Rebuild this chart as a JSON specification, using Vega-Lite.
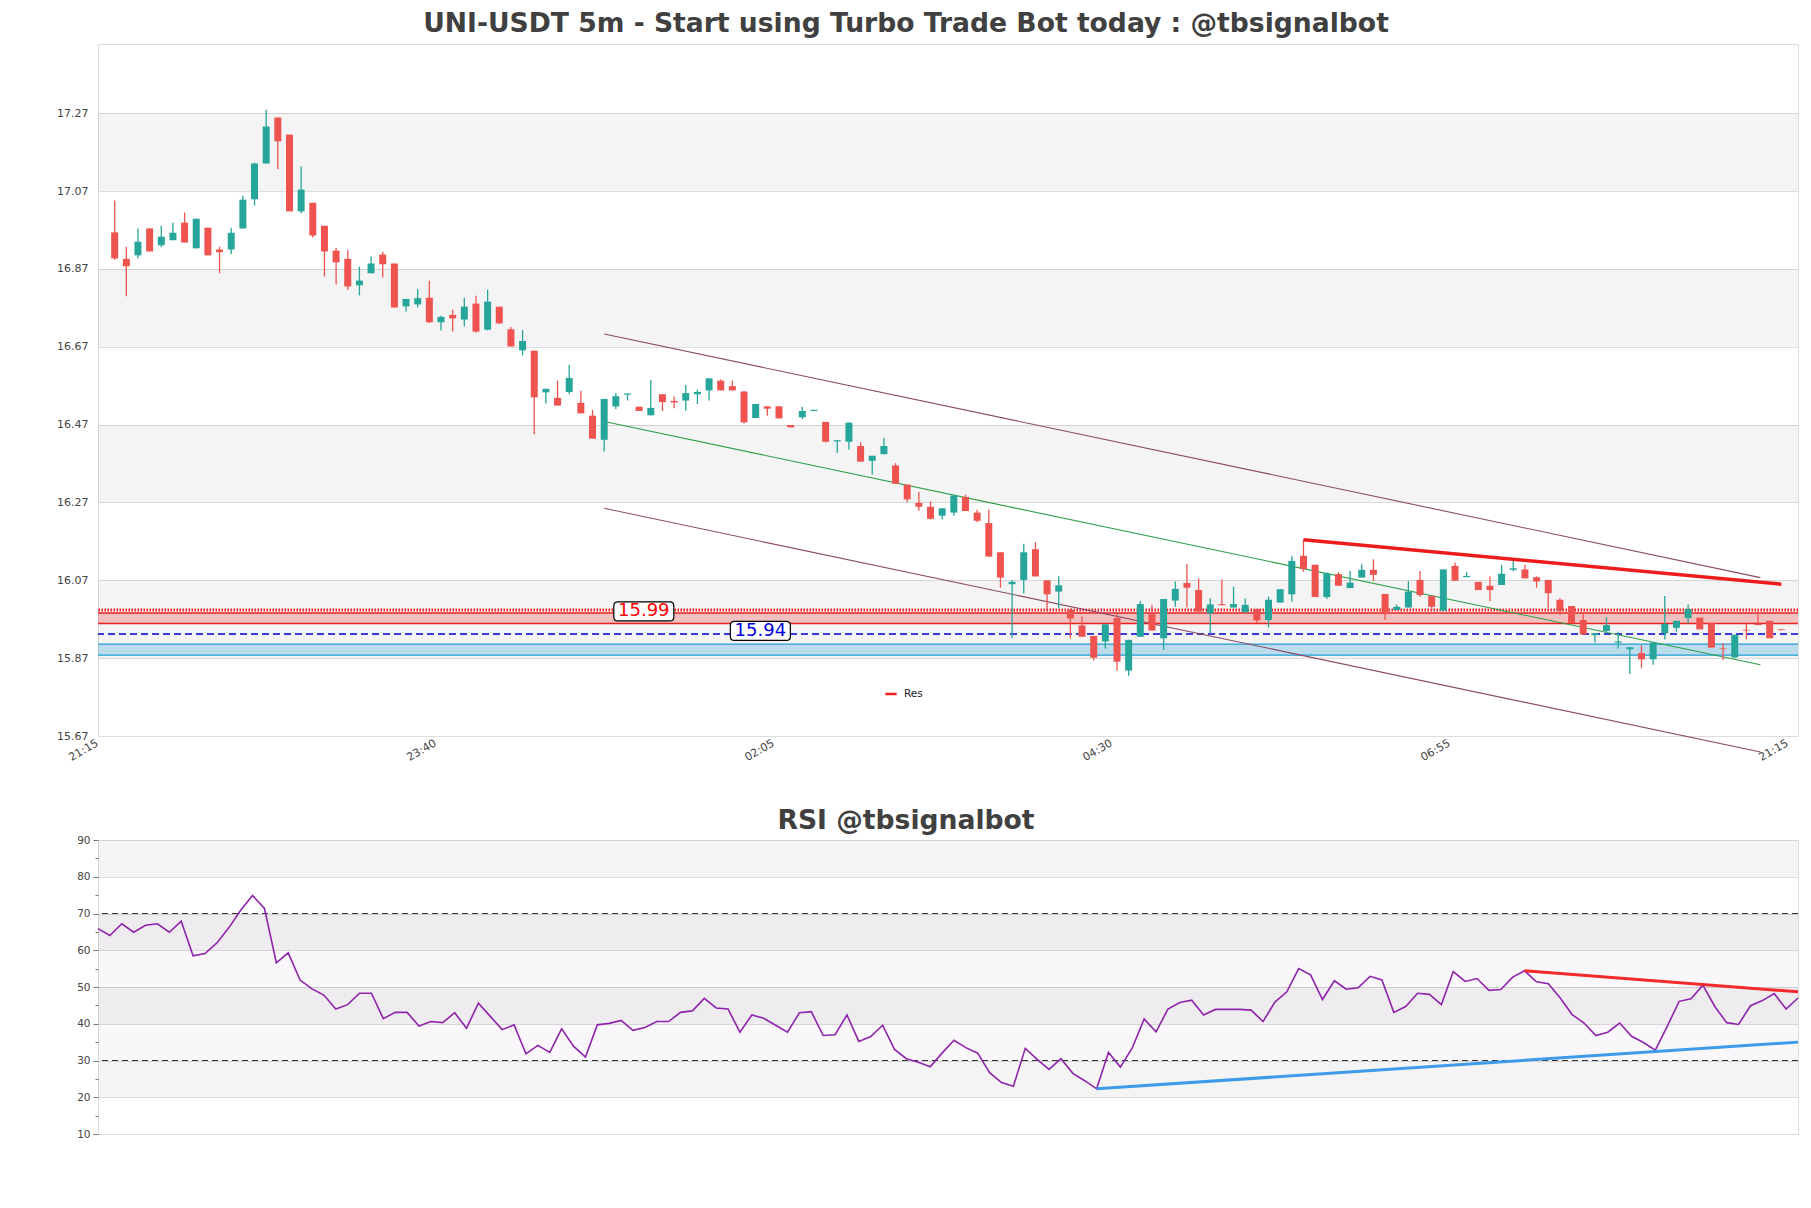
{
  "$schema": "https://vega.github.io/schema/vega-lite/v6.json",
  "background": "white",
  "padding": {"left": 5, "top": 10, "right": 5, "bottom": 5},
  "spacing": 104,
  "bounds": "flush",
  "config": {
    "font": "DejaVu Sans",
    "view": {"stroke": "#dcdcdc", "strokeWidth": 1},
    "axis": {"labelFont": "DejaVu Sans", "labelColor": "#444444", "labelFontSize": 11, "labelOverlap": false}
  },
  "resolve": {"legend": {"color": "independent"}, "scale": {"color": "independent"}},
  "datasets": {
    "candles": [
      {"i":1,"o":16.964,"h":17.046,"l":16.893,"c":16.897},
      {"i":2,"o":16.896,"h":16.927,"l":16.800,"c":16.877},
      {"i":3,"o":16.905,"h":16.974,"l":16.897,"c":16.940},
      {"i":4,"o":16.974,"h":16.975,"l":16.915,"c":16.915},
      {"i":5,"o":16.931,"h":16.981,"l":16.926,"c":16.953},
      {"i":6,"o":16.944,"h":16.989,"l":16.944,"c":16.963},
      {"i":7,"o":16.989,"h":17.015,"l":16.938,"c":16.938},
      {"i":8,"o":16.923,"h":16.999,"l":16.923,"c":16.999},
      {"i":9,"o":16.976,"h":16.976,"l":16.905,"c":16.905},
      {"i":10,"o":16.920,"h":16.927,"l":16.859,"c":16.913},
      {"i":11,"o":16.920,"h":16.976,"l":16.908,"c":16.963},
      {"i":12,"o":16.974,"h":17.058,"l":16.974,"c":17.048},
      {"i":13,"o":17.049,"h":17.143,"l":17.033,"c":17.141},
      {"i":14,"o":17.141,"h":17.279,"l":17.141,"c":17.236},
      {"i":15,"o":17.259,"h":17.259,"l":17.126,"c":17.198},
      {"i":16,"o":17.215,"h":17.215,"l":17.018,"c":17.018},
      {"i":17,"o":17.018,"h":17.133,"l":17.013,"c":17.074},
      {"i":18,"o":17.040,"h":17.040,"l":16.951,"c":16.956},
      {"i":19,"o":16.981,"h":16.981,"l":16.851,"c":16.915},
      {"i":20,"o":16.917,"h":16.924,"l":16.830,"c":16.887},
      {"i":21,"o":16.896,"h":16.919,"l":16.816,"c":16.825},
      {"i":22,"o":16.828,"h":16.876,"l":16.802,"c":16.840},
      {"i":23,"o":16.859,"h":16.902,"l":16.859,"c":16.884},
      {"i":24,"o":16.907,"h":16.914,"l":16.848,"c":16.882},
      {"i":25,"o":16.884,"h":16.884,"l":16.771,"c":16.771},
      {"i":26,"o":16.774,"h":16.793,"l":16.761,"c":16.793},
      {"i":27,"o":16.779,"h":16.818,"l":16.771,"c":16.795},
      {"i":28,"o":16.796,"h":16.840,"l":16.731,"c":16.733},
      {"i":29,"o":16.733,"h":16.750,"l":16.712,"c":16.747},
      {"i":30,"o":16.752,"h":16.765,"l":16.709,"c":16.743},
      {"i":31,"o":16.740,"h":16.796,"l":16.722,"c":16.773},
      {"i":32,"o":16.781,"h":16.801,"l":16.707,"c":16.709},
      {"i":33,"o":16.714,"h":16.817,"l":16.712,"c":16.786},
      {"i":34,"o":16.773,"h":16.773,"l":16.730,"c":16.730},
      {"i":35,"o":16.715,"h":16.721,"l":16.671,"c":16.671},
      {"i":36,"o":16.661,"h":16.713,"l":16.648,"c":16.685},
      {"i":37,"o":16.660,"h":16.660,"l":16.445,"c":16.540},
      {"i":38,"o":16.553,"h":16.562,"l":16.524,"c":16.562},
      {"i":39,"o":16.539,"h":16.583,"l":16.519,"c":16.519},
      {"i":40,"o":16.554,"h":16.623,"l":16.548,"c":16.590},
      {"i":41,"o":16.526,"h":16.557,"l":16.499,"c":16.499},
      {"i":42,"o":16.493,"h":16.508,"l":16.434,"c":16.434},
      {"i":43,"o":16.431,"h":16.536,"l":16.401,"c":16.536},
      {"i":44,"o":16.517,"h":16.551,"l":16.510,"c":16.543},
      {"i":45,"o":16.547,"h":16.550,"l":16.532,"c":16.550},
      {"i":46,"o":16.516,"h":16.516,"l":16.505,"c":16.505},
      {"i":47,"o":16.494,"h":16.585,"l":16.494,"c":16.513},
      {"i":48,"o":16.548,"h":16.548,"l":16.505,"c":16.528},
      {"i":49,"o":16.531,"h":16.542,"l":16.512,"c":16.527},
      {"i":50,"o":16.532,"h":16.572,"l":16.506,"c":16.551},
      {"i":51,"o":16.548,"h":16.560,"l":16.523,"c":16.554},
      {"i":52,"o":16.558,"h":16.589,"l":16.532,"c":16.589},
      {"i":53,"o":16.583,"h":16.586,"l":16.558,"c":16.558},
      {"i":54,"o":16.569,"h":16.583,"l":16.558,"c":16.558},
      {"i":55,"o":16.555,"h":16.557,"l":16.473,"c":16.476},
      {"i":56,"o":16.487,"h":16.523,"l":16.487,"c":16.523},
      {"i":57,"o":16.517,"h":16.517,"l":16.493,"c":16.511},
      {"i":58,"o":16.517,"h":16.517,"l":16.486,"c":16.486},
      {"i":59,"o":16.469,"h":16.469,"l":16.463,"c":16.463},
      {"i":60,"o":16.489,"h":16.515,"l":16.484,"c":16.505},
      {"i":61,"o":16.505,"h":16.508,"l":16.505,"c":16.508},
      {"i":62,"o":16.477,"h":16.477,"l":16.424,"c":16.426},
      {"i":63,"o":16.427,"h":16.430,"l":16.397,"c":16.430},
      {"i":64,"o":16.426,"h":16.476,"l":16.406,"c":16.475},
      {"i":65,"o":16.415,"h":16.425,"l":16.375,"c":16.375},
      {"i":66,"o":16.377,"h":16.390,"l":16.341,"c":16.390},
      {"i":67,"o":16.394,"h":16.436,"l":16.394,"c":16.415},
      {"i":68,"o":16.365,"h":16.371,"l":16.318,"c":16.318},
      {"i":69,"o":16.316,"h":16.316,"l":16.271,"c":16.278},
      {"i":70,"o":16.269,"h":16.297,"l":16.249,"c":16.259},
      {"i":71,"o":16.259,"h":16.272,"l":16.226,"c":16.228},
      {"i":72,"o":16.236,"h":16.255,"l":16.226,"c":16.255},
      {"i":73,"o":16.244,"h":16.288,"l":16.236,"c":16.288},
      {"i":74,"o":16.284,"h":16.290,"l":16.248,"c":16.248},
      {"i":75,"o":16.244,"h":16.251,"l":16.219,"c":16.223},
      {"i":76,"o":16.217,"h":16.251,"l":16.131,"c":16.131},
      {"i":77,"o":16.142,"h":16.142,"l":16.051,"c":16.077},
      {"i":78,"o":16.060,"h":16.071,"l":15.921,"c":16.066},
      {"i":79,"o":16.071,"h":16.164,"l":16.036,"c":16.142},
      {"i":80,"o":16.150,"h":16.168,"l":16.080,"c":16.080},
      {"i":81,"o":16.070,"h":16.070,"l":15.994,"c":16.034},
      {"i":82,"o":16.041,"h":16.081,"l":15.998,"c":16.057},
      {"i":83,"o":15.994,"h":15.997,"l":15.921,"c":15.972},
      {"i":84,"o":15.954,"h":15.977,"l":15.925,"c":15.925},
      {"i":85,"o":15.927,"h":15.927,"l":15.864,"c":15.871},
      {"i":86,"o":15.913,"h":15.957,"l":15.895,"c":15.957},
      {"i":87,"o":15.973,"h":15.983,"l":15.838,"c":15.861},
      {"i":88,"o":15.838,"h":15.917,"l":15.825,"c":15.917},
      {"i":89,"o":15.925,"h":16.017,"l":15.925,"c":16.009},
      {"i":90,"o":15.983,"h":16.007,"l":15.941,"c":15.941},
      {"i":91,"o":15.921,"h":16.022,"l":15.891,"c":16.022},
      {"i":92,"o":16.018,"h":16.067,"l":16.002,"c":16.048},
      {"i":93,"o":16.063,"h":16.112,"l":16.000,"c":16.051},
      {"i":94,"o":16.045,"h":16.075,"l":15.990,"c":15.990},
      {"i":95,"o":15.985,"h":16.024,"l":15.934,"c":16.008},
      {"i":96,"o":16.009,"h":16.073,"l":16.006,"c":16.006},
      {"i":97,"o":16.000,"h":16.054,"l":16.000,"c":16.009},
      {"i":98,"o":15.988,"h":16.024,"l":15.988,"c":16.007},
      {"i":99,"o":15.996,"h":15.996,"l":15.960,"c":15.967},
      {"i":100,"o":15.968,"h":16.028,"l":15.949,"c":16.020},
      {"i":101,"o":16.013,"h":16.047,"l":16.013,"c":16.047},
      {"i":102,"o":16.034,"h":16.133,"l":16.015,"c":16.120},
      {"i":103,"o":16.133,"h":16.174,"l":16.092,"c":16.099},
      {"i":104,"o":16.110,"h":16.110,"l":16.027,"c":16.027},
      {"i":105,"o":16.027,"h":16.090,"l":16.022,"c":16.088},
      {"i":106,"o":16.086,"h":16.091,"l":16.056,"c":16.056},
      {"i":107,"o":16.050,"h":16.094,"l":16.050,"c":16.064},
      {"i":108,"o":16.077,"h":16.111,"l":16.077,"c":16.097},
      {"i":109,"o":16.097,"h":16.124,"l":16.068,"c":16.084},
      {"i":110,"o":16.035,"h":16.035,"l":15.968,"c":15.983},
      {"i":111,"o":15.994,"h":16.008,"l":15.994,"c":16.002},
      {"i":112,"o":16.000,"h":16.068,"l":16.000,"c":16.041},
      {"i":113,"o":16.071,"h":16.094,"l":16.028,"c":16.032},
      {"i":114,"o":16.030,"h":16.030,"l":15.994,"c":16.002},
      {"i":115,"o":15.992,"h":16.098,"l":15.992,"c":16.098},
      {"i":116,"o":16.107,"h":16.116,"l":16.069,"c":16.069},
      {"i":117,"o":16.078,"h":16.092,"l":16.078,"c":16.081},
      {"i":118,"o":16.066,"h":16.066,"l":16.045,"c":16.045},
      {"i":119,"o":16.056,"h":16.080,"l":16.017,"c":16.045},
      {"i":120,"o":16.058,"h":16.110,"l":16.058,"c":16.087},
      {"i":121,"o":16.097,"h":16.122,"l":16.093,"c":16.101},
      {"i":122,"o":16.098,"h":16.110,"l":16.075,"c":16.075},
      {"i":123,"o":16.078,"h":16.080,"l":16.051,"c":16.067},
      {"i":124,"o":16.071,"h":16.071,"l":15.998,"c":16.037},
      {"i":125,"o":16.020,"h":16.024,"l":15.981,"c":15.991},
      {"i":126,"o":16.004,"h":16.004,"l":15.960,"c":15.960},
      {"i":127,"o":15.968,"h":15.987,"l":15.931,"c":15.931},
      {"i":128,"o":15.929,"h":15.934,"l":15.910,"c":15.934},
      {"i":129,"o":15.940,"h":15.975,"l":15.934,"c":15.955},
      {"i":130,"o":15.910,"h":15.938,"l":15.895,"c":15.913},
      {"i":131,"o":15.893,"h":15.898,"l":15.829,"c":15.898},
      {"i":132,"o":15.883,"h":15.903,"l":15.844,"c":15.867},
      {"i":133,"o":15.867,"h":15.910,"l":15.853,"c":15.910},
      {"i":134,"o":15.934,"h":16.030,"l":15.918,"c":15.958},
      {"i":135,"o":15.948,"h":15.966,"l":15.938,"c":15.966},
      {"i":136,"o":15.973,"h":16.008,"l":15.960,"c":15.996},
      {"i":137,"o":15.974,"h":15.974,"l":15.944,"c":15.944},
      {"i":138,"o":15.960,"h":15.960,"l":15.897,"c":15.897},
      {"i":139,"o":15.895,"h":15.908,"l":15.865,"c":15.893},
      {"i":140,"o":15.872,"h":15.930,"l":15.870,"c":15.930},
      {"i":141,"o":15.943,"h":15.961,"l":15.919,"c":15.941},
      {"i":142,"o":15.958,"h":15.996,"l":15.955,"c":15.955},
      {"i":143,"o":15.966,"h":15.966,"l":15.921,"c":15.921},
      {"i":144,"o":15.944,"h":15.945,"l":15.941,"c":15.942}
    ],
    "rsi": [
      {"i":0,"r":65.9},{"i":1,"r":64.0},{"i":2,"r":67.2},{"i":3,"r":64.9},{"i":4,"r":66.8},
      {"i":5,"r":67.2},{"i":6,"r":64.9},{"i":7,"r":67.9},{"i":8,"r":58.5},{"i":9,"r":59.1},
      {"i":10,"r":62.0},{"i":11,"r":66.1},{"i":12,"r":70.9},{"i":13,"r":74.9},{"i":14,"r":71.4},
      {"i":15,"r":56.6},{"i":16,"r":59.3},{"i":17,"r":51.9},{"i":18,"r":49.5},{"i":19,"r":47.8},
      {"i":20,"r":44.0},{"i":21,"r":45.2},{"i":22,"r":48.3},{"i":23,"r":48.3},{"i":24,"r":41.4},
      {"i":25,"r":43.1},{"i":26,"r":43.1},{"i":27,"r":39.4},{"i":28,"r":40.6},{"i":29,"r":40.3},
      {"i":30,"r":43.0},{"i":31,"r":38.8},{"i":32,"r":45.6},{"i":33,"r":42.0},{"i":34,"r":38.4},
      {"i":35,"r":39.7},{"i":36,"r":31.8},{"i":37,"r":34.1},{"i":38,"r":32.2},{"i":39,"r":38.6},
      {"i":40,"r":33.9},{"i":41,"r":30.9},{"i":42,"r":39.7},{"i":43,"r":40.1},{"i":44,"r":40.9},
      {"i":45,"r":38.2},{"i":46,"r":39.0},{"i":47,"r":40.6},{"i":48,"r":40.6},{"i":49,"r":43.1},
      {"i":50,"r":43.5},{"i":51,"r":46.9},{"i":52,"r":44.3},{"i":53,"r":44.0},{"i":54,"r":37.7},
      {"i":55,"r":42.4},{"i":56,"r":41.5},{"i":57,"r":39.6},{"i":58,"r":37.7},{"i":59,"r":43.0},
      {"i":60,"r":43.3},{"i":61,"r":36.8},{"i":62,"r":37.0},{"i":63,"r":42.4},{"i":64,"r":35.2},
      {"i":65,"r":36.5},{"i":66,"r":39.6},{"i":67,"r":33.0},{"i":68,"r":30.5},{"i":69,"r":29.5},
      {"i":70,"r":28.3},{"i":71,"r":32.0},{"i":72,"r":35.5},{"i":73,"r":33.5},{"i":74,"r":32.0},
      {"i":75,"r":26.7},{"i":76,"r":24.0},{"i":77,"r":23.0},{"i":78,"r":33.3},{"i":79,"r":30.3},
      {"i":80,"r":27.6},{"i":81,"r":30.5},{"i":82,"r":26.5},{"i":83,"r":24.5},{"i":84,"r":22.3},
      {"i":85,"r":32.2},{"i":86,"r":28.2},{"i":87,"r":33.4},{"i":88,"r":41.3},{"i":89,"r":37.8},
      {"i":90,"r":44.0},{"i":91,"r":45.8},{"i":92,"r":46.4},{"i":93,"r":42.4},{"i":94,"r":43.9},
      {"i":95,"r":43.9},{"i":96,"r":43.9},{"i":97,"r":43.7},{"i":98,"r":40.6},{"i":99,"r":45.9},
      {"i":100,"r":48.7},{"i":101,"r":55.0},{"i":102,"r":53.3},{"i":103,"r":46.6},{"i":104,"r":51.7},
      {"i":105,"r":49.4},{"i":106,"r":49.8},{"i":107,"r":52.9},{"i":108,"r":51.9},{"i":109,"r":43.1},
      {"i":110,"r":44.7},{"i":111,"r":48.3},{"i":112,"r":48.0},{"i":113,"r":45.2},{"i":114,"r":54.2},
      {"i":115,"r":51.5},{"i":116,"r":52.3},{"i":117,"r":49.1},{"i":118,"r":49.3},{"i":119,"r":52.7},
      {"i":120,"r":54.4},{"i":121,"r":51.4},{"i":122,"r":50.9},{"i":123,"r":47.0},{"i":124,"r":42.5},
      {"i":125,"r":40.2},{"i":126,"r":36.8},{"i":127,"r":37.7},{"i":128,"r":40.2},{"i":129,"r":36.6},
      {"i":130,"r":34.9},{"i":131,"r":32.8},{"i":132,"r":39.3},{"i":133,"r":46.1},{"i":134,"r":46.8},
      {"i":135,"r":50.5},{"i":136,"r":44.7},{"i":137,"r":40.3},{"i":138,"r":39.8},{"i":139,"r":44.9},
      {"i":140,"r":46.3},{"i":141,"r":48.2},{"i":142,"r":44.0},{"i":143,"r":47.0}
    ]
  },
  "vconcat": [
    {
      "width": 1700,
      "height": 692,
      "title": {
        "text": "UNI-USDT 5m - Start using Turbo Trade Bot today : @tbsignalbot",
        "font": "DejaVu Sans", "fontSize": 26.6, "fontWeight": "bold", "color": "#404040",
        "anchor": "middle", "dx": -42, "offset": 6
      },
      "layer": [
        {
          "data": {"values": [{"a":17.07,"b":17.27},{"a":16.67,"b":16.87},{"a":16.27,"b":16.47},{"a":15.87,"b":16.07}]},
          "mark": {"type": "rect", "fill": "#000000", "fillOpacity": 0.045},
          "encoding": {
            "y": {"field": "a", "type": "quantitative",
              "scale": {"domain": [15.67, 17.448], "nice": false, "zero": false},
              "axis": {"values": [15.67,15.87,16.07,16.27,16.47,16.67,16.87,17.07,17.27], "format": ".2f", "tickCount": 30,
                "grid": true, "gridColor": "#dcdcdc", "ticks": false, "domain": false, "labelOverlap": false,
                "labelPadding": 10, "title": null, "minExtent": 92, "maxExtent": 92}},
            "y2": {"field": "b"}
          }
        },
        {
          "data": {"values": [{"a":15.959,"b":15.986}]},
          "mark": {"type": "rect", "fill": "#ef3b3b", "fillOpacity": 0.28},
          "encoding": {"y": {"field": "a", "type": "quantitative"}, "y2": {"field": "b"}}
        },
        {
          "data": {"values": [{"a":15.878,"b":15.906}]},
          "mark": {"type": "rect", "fill": "#1f9ad6", "fillOpacity": 0.27},
          "encoding": {"y": {"field": "a", "type": "quantitative"}, "y2": {"field": "b"}}
        },
        {
          "data": {"values": [{"p":15.986},{"p":15.959}]},
          "mark": {"type": "rule", "stroke": "#e8231f", "strokeWidth": 1.3},
          "encoding": {"y": {"field": "p", "type": "quantitative"}}
        },
        {
          "data": {"values": [{"p":15.9935}]},
          "mark": {"type": "rule", "stroke": "#e8231f", "strokeWidth": 3, "strokeDash": [1.5, 1.5]},
          "encoding": {"y": {"field": "p", "type": "quantitative"}}
        },
        {
          "data": {"values": [{"p":15.906},{"p":15.878}]},
          "mark": {"type": "rule", "stroke": "#1f9ad6", "strokeWidth": 1.3},
          "encoding": {"y": {"field": "p", "type": "quantitative"}}
        },
        {
          "data": {"values": [{"p":15.932}]},
          "mark": {"type": "rule", "stroke": "#0000cc", "strokeWidth": 1.5, "strokeDash": [7, 4]},
          "encoding": {"y": {"field": "p", "type": "quantitative"}}
        },
        {
          "data": {"values": [
            {"name":"upper","u":43,"p":16.703},{"name":"upper","u":142.2,"p":16.077},
            {"name":"mid","u":43,"p":16.478},{"name":"mid","u":142.2,"p":15.853},
            {"name":"lower","u":43,"p":16.255},{"name":"lower","u":142.2,"p":15.629}
          ]},
          "mark": {"type": "line", "strokeWidth": 1.1},
          "encoding": {
            "x": {"field": "u", "type": "quantitative"},
            "y": {"field": "p", "type": "quantitative"},
            "detail": {"field": "name"},
            "color": {"condition": {"test": "datum.name === 'mid'", "value": "#2ca048"}, "value": "#8a4a6a"}
          }
        },
        {
          "data": {"name": "candles"},
          "mark": {"type": "rule", "strokeWidth": 1.3},
          "encoding": {
            "x": {"field": "i", "type": "quantitative",
              "scale": {"domain": [0, 145], "nice": false, "zero": false},
              "axis": {"values": [0, 29, 58, 87, 116, 145], "tickCount": 30,
                "labelExpr": "datum.value == 0 ? '21:15' : datum.value == 29 ? '23:40' : datum.value == 58 ? '02:05' : datum.value == 87 ? '04:30' : datum.value == 116 ? '06:55' : '21:15'",
                "labelAngle": 330, "labelAlign": "right", "labelBaseline": "top", "labelFlush": false,
                "labelOverlap": false, "ticks": false, "domain": false, "grid": false,
                "labelPadding": 1, "labelOffset": -9, "title": null}},
            "y": {"field": "l", "type": "quantitative"},
            "y2": {"field": "h"},
            "color": {"condition": {"test": "datum.c >= datum.o", "value": "#26a69a"}, "value": "#ef5350"}
          }
        },
        {
          "data": {"name": "candles"},
          "mark": {"type": "bar", "width": 7},
          "encoding": {
            "x": {"field": "i", "type": "quantitative"},
            "y": {"field": "o", "type": "quantitative"},
            "y2": {"field": "c"},
            "color": {"condition": {"test": "datum.c >= datum.o", "value": "#26a69a"}, "value": "#ef5350"}
          }
        },
        {
          "data": {"values": [{"name":"Res","u":103,"p":16.174},{"name":"Res","u":144,"p":16.060}]},
          "mark": {"type": "line", "strokeWidth": 3.5},
          "encoding": {
            "x": {"field": "u", "type": "quantitative"},
            "y": {"field": "p", "type": "quantitative"},
            "color": {"field": "name", "type": "nominal",
              "scale": {"domain": ["Res"], "range": ["#ee1c1c"]},
              "legend": {"orient": "none", "legendX": 786, "legendY": 643, "title": null,
                "symbolType": "stroke", "symbolStrokeWidth": 2.5, "symbolSize": 130,
                "labelFontSize": 10.5, "labelColor": "#222222", "padding": 0, "labelOffset": 6}}
          }
        },
        {
          "data": {"values": [{"t":"15.99","u":46.4,"p":15.99,"k":"res"},{"t":"15.94","u":56.4,"p":15.94,"k":"sup"}]},
          "mark": {"type": "point", "filled": true, "fill": "white", "stroke": "black", "strokeWidth": 1.2, "opacity": 1, "size": 3600,
            "shape": "M -0.867 -0.317 L 0.867 -0.317 Q 1 -0.317 1 -0.183 L 1 0.183 Q 1 0.317 0.867 0.317 L -0.867 0.317 Q -1 0.317 -1 0.183 L -1 -0.183 Q -1 -0.317 -0.867 -0.317 Z"},
          "encoding": {
            "x": {"field": "u", "type": "quantitative"},
            "y": {"field": "p", "type": "quantitative"}
          }
        },
        {
          "data": {"values": [{"t":"15.99","u":46.4,"p":15.99,"k":"res"},{"t":"15.94","u":56.4,"p":15.94,"k":"sup"}]},
          "mark": {"type": "text", "fontSize": 18, "align": "center", "baseline": "middle", "font": "DejaVu Sans"},
          "encoding": {
            "x": {"field": "u", "type": "quantitative"},
            "y": {"field": "p", "type": "quantitative"},
            "text": {"field": "t"},
            "color": {"condition": {"test": "datum.k === 'res'", "value": "#ff0000"}, "value": "#0000dd"}
          }
        }
      ]
    },
    {
      "width": 1700,
      "height": 294,
      "title": {
        "text": "RSI @tbsignalbot",
        "font": "DejaVu Sans", "fontSize": 26.6, "fontWeight": "bold", "color": "#404040",
        "anchor": "middle", "dx": -42, "offset": 0
      },
      "layer": [
        {
          "data": {"values": [{"a":80,"b":90},{"a":60,"b":70},{"a":40,"b":50},{"a":20,"b":30}]},
          "mark": {"type": "rect", "fill": "#000000", "fillOpacity": 0.045},
          "encoding": {
            "y": {"field": "a", "type": "quantitative",
              "scale": {"domain": [10, 90], "nice": false, "zero": false},
              "axis": {"values": [10,15,20,25,30,35,40,45,50,55,60,65,70,75,80,85,90],
                "tickCount": 40,
                "labelExpr": "datum.value % 10 === 0 ? datum.label : ''",
                "labelOverlap": false,
                "labelFontSize": 10.5,
                "tickSize": {"condition": {"test": "datum.value % 10 === 0", "value": 5}, "value": 3},
                "tickColor": "#777777",
                "grid": true, "gridColor": "#dcdcdc",
                "gridOpacity": {"condition": {"test": "datum.value % 10 === 0", "value": 1}, "value": 0},
                "domain": false, "labelPadding": 3, "title": null, "minExtent": 92, "maxExtent": 92}},
            "y2": {"field": "b"}
          }
        },
        {
          "data": {"values": [{"a":30,"b":70}]},
          "mark": {"type": "rect", "fill": "#9c5bb5", "fillOpacity": 0.05},
          "encoding": {"y": {"field": "a", "type": "quantitative"}, "y2": {"field": "b"}}
        },
        {
          "data": {"values": [{"r":70},{"r":30}]},
          "mark": {"type": "rule", "stroke": "#333333", "strokeWidth": 1.2, "strokeDash": [6, 4]},
          "encoding": {"y": {"field": "r", "type": "quantitative"}}
        },
        {
          "data": {"name": "rsi"},
          "mark": {"type": "line", "stroke": "#8e24aa", "strokeWidth": 1.6},
          "encoding": {
            "x": {"field": "i", "type": "quantitative", "scale": {"domain": [0, 143], "nice": false, "zero": false}, "axis": null},
            "y": {"field": "r", "type": "quantitative"}
          }
        },
        {
          "data": {"values": [
            {"name":"res","i":120,"r":54.4},{"name":"res","i":143,"r":48.7},
            {"name":"sup","i":84,"r":22.3},{"name":"sup","i":143,"r":35.0}
          ]},
          "mark": {"type": "line", "strokeWidth": 3},
          "encoding": {
            "x": {"field": "i", "type": "quantitative"},
            "y": {"field": "r", "type": "quantitative"},
            "detail": {"field": "name"},
            "color": {"condition": {"test": "datum.name === 'res'", "value": "#f52a2a"}, "value": "#3d9be9"}
          }
        }
      ]
    }
  ]
}
